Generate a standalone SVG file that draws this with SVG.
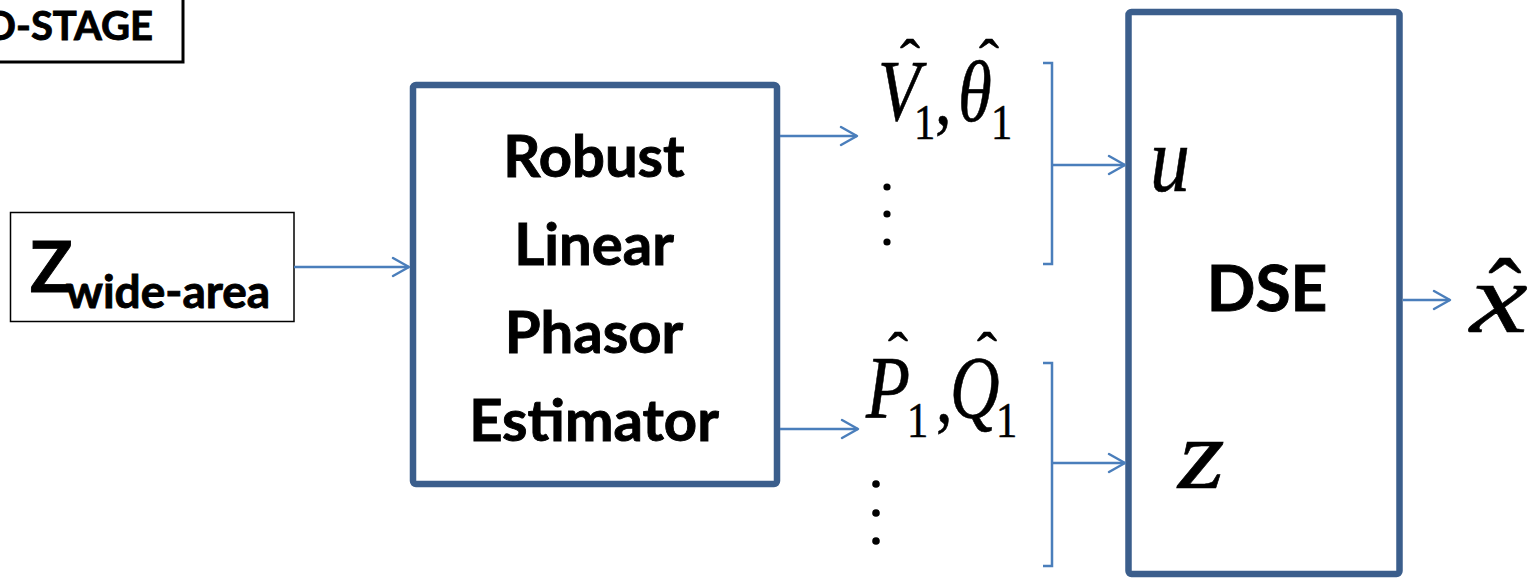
<svg xmlns="http://www.w3.org/2000/svg" width="1535" height="581" viewBox="0 0 1535 581">
  <style>
    .block { fill: #ffffff; stroke: #3B5E8C; stroke-width: 6.5; }
    .plain { fill: #ffffff; stroke: #000000; }
    .label { font-family: Lato, "Open Sans", sans-serif; font-weight: bold; fill: #000000; stroke: #000000; stroke-width: 0.9; }
    .math { font-family: "Liberation Serif", "Times New Roman", serif; fill: #000000; stroke: #000000; stroke-width: 0.6; }
    .it { font-style: italic; }
    .wire { fill: none; stroke: #4A7EBB; stroke-width: 2.5; }
    .dot { fill: #000000; }
  </style>
  <defs>
    <marker id="head" viewBox="-20 -12 24 24" markerWidth="24" markerHeight="24" refX="0" refY="0" orient="auto" markerUnits="userSpaceOnUse">
      <path d="M-16,-9 L0,0 L-16,9" fill="none" stroke="#4A7EBB" stroke-width="2.5" stroke-linecap="round" stroke-linejoin="round"/>
    </marker>
  </defs>

  <!-- stage tag, partly off the canvas -->
  <g id="stage-tag">
    <rect x="-20" y="-20" width="203" height="82" class="plain" stroke-width="3"/>
    <text x="153" y="40" class="label" font-size="40" text-anchor="end">D-STAGE</text>
  </g>

  <!-- wide-area measurement input -->
  <g id="z-wide-area">
    <rect x="10.5" y="212.5" width="283.5" height="109" class="plain" stroke-width="1.5"/>
    <text x="30" y="292" class="label" font-size="70">Z</text>
    <text x="66" y="308" class="label" font-size="46">wide-area</text>
  </g>

  <!-- phasor estimator -->
  <g id="estimator">
    <rect x="413" y="85" width="364" height="399" rx="3" class="block"/>
    <text x="594" y="177" class="label" font-size="58" text-anchor="middle">Robust</text>
    <text x="594" y="265" class="label" font-size="58" text-anchor="middle">Linear</text>
    <text x="594" y="353" class="label" font-size="58" text-anchor="middle">Phasor</text>
    <text x="594" y="441" class="label" font-size="58" text-anchor="middle">Estimator</text>
  </g>

  <!-- estimated voltage magnitude / angle -->
  <g id="v-theta">
    <text class="math it" font-size="86" transform="translate(878,120) scale(0.8,1)">V</text>
    <text class="math" font-size="60" text-anchor="middle" transform="translate(910,80)">ˆ</text>
    <text class="math" font-size="50" transform="translate(914,139) scale(0.85,1)">1</text>
    <text class="math" font-size="78" transform="translate(935,124) scale(0.85,1)">,</text>
    <text class="math it" font-size="86" transform="translate(958,121) scale(0.8,1)">θ</text>
    <text class="math" font-size="60" text-anchor="middle" transform="translate(989,80)">ˆ</text>
    <text class="math" font-size="50" transform="translate(991,139) scale(0.85,1)">1</text>
    <circle cx="887" cy="187" r="3.6" class="dot"/>
    <circle cx="887" cy="214" r="3.6" class="dot"/>
    <circle cx="887" cy="242" r="3.6" class="dot"/>
  </g>

  <!-- estimated active / reactive power -->
  <g id="p-q">
    <text class="math it" font-size="88" transform="translate(866,417) scale(0.82,1)">P</text>
    <text class="math" font-size="60" text-anchor="middle" transform="translate(898,373)">ˆ</text>
    <text class="math" font-size="50" transform="translate(907,437) scale(0.85,1)">1</text>
    <text class="math" font-size="78" transform="translate(936,422) scale(0.85,1)">,</text>
    <text class="math it" font-size="88" transform="translate(950,417) scale(0.78,1)">Q</text>
    <text class="math" font-size="60" text-anchor="middle" transform="translate(987,373)">ˆ</text>
    <text class="math" font-size="50" transform="translate(996,437) scale(0.85,1)">1</text>
    <circle cx="876" cy="484" r="3.8" class="dot"/>
    <circle cx="876" cy="513" r="3.8" class="dot"/>
    <circle cx="876" cy="541" r="3.8" class="dot"/>
  </g>

  <!-- dynamic state estimator -->
  <g id="dse">
    <rect x="1128.5" y="12" width="271" height="562" rx="3" class="block"/>
    <text x="1267" y="311" class="label" font-size="64" text-anchor="middle">DSE</text>
    <text class="math it" font-size="94" transform="translate(1150,191) scale(0.85,1)">u</text>
    <text class="math it" font-size="100" transform="translate(1178,488) scale(1.2,1)">z</text>
  </g>

  <!-- state estimate output -->
  <g id="x-hat">
    <text class="math it" font-size="100" transform="translate(1470,332) scale(1.3,1)">x</text>
    <text class="math" font-size="100" x="1505" y="328" text-anchor="middle">ˆ</text>
  </g>

  <!-- connectors -->
  <g id="connectors">
    <line x1="294" y1="267" x2="409" y2="267" class="wire" marker-end="url(#head)"/>
    <line x1="780" y1="136" x2="857" y2="136" class="wire" marker-end="url(#head)"/>
    <line x1="780" y1="429" x2="858" y2="429" class="wire" marker-end="url(#head)"/>
    <path d="M1043,63 H1052 V264 H1043" class="wire"/>
    <path d="M1043,363 H1052 V566 H1043" class="wire"/>
    <line x1="1052" y1="165" x2="1125" y2="165" class="wire" marker-end="url(#head)"/>
    <line x1="1052" y1="463" x2="1125" y2="463" class="wire" marker-end="url(#head)"/>
    <line x1="1403" y1="300" x2="1450" y2="300" class="wire" marker-end="url(#head)"/>
  </g>
</svg>
